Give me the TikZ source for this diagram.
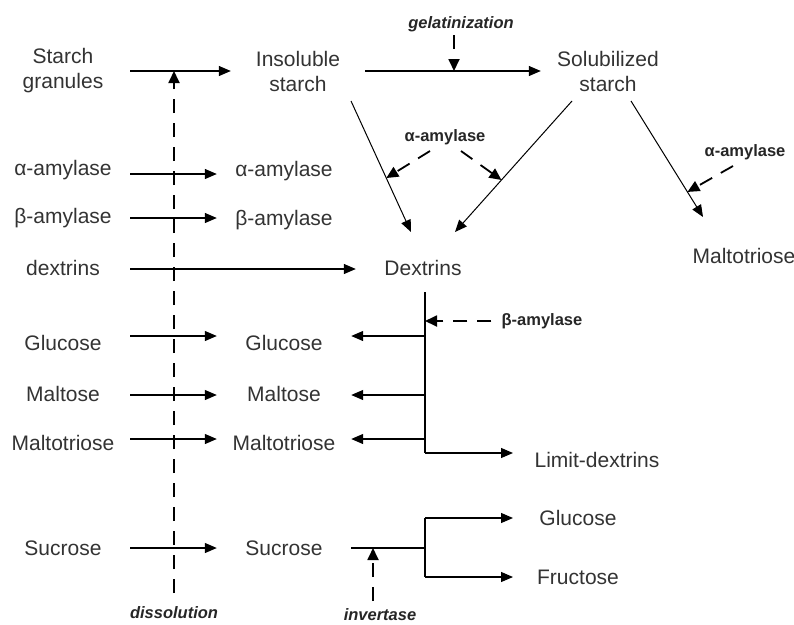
\documentclass[tikz,border=0pt]{standalone}
\usepackage{fontspec}
\setmainfont{Liberation Sans}
\usetikzlibrary{arrows.meta,calc}
\begin{document}
\begin{tikzpicture}[x=1pt,y=-1pt,
  lbl/.style={font=\fontsize{21}{25}\selectfont, text=black!80, align=center, minimum width=134, inner sep=0},
  txt/.style={font=\fontsize{21}{25}\selectfont, text=black!80, inner sep=0},
  enz/.style={font=\fontsize{16.5}{20}\selectfont\bfseries, text=black!85, inner sep=0},
  proc/.style={font=\fontsize{16.5}{20}\selectfont\bfseries\itshape, text=black!85, inner sep=0},
  arr/.style={line width=1.2, -{Triangle[length=12,width=10]}},
  ln/.style={line width=1.2},
  dg/.style={line width=1, -{Triangle[length=12,width=10]}},
  darr/.style={line width=1.8, dash pattern=on 14 off 10, -{Triangle[length=12,width=11]}},
]
\fill[white] (0,0) rectangle (794,624);
\useasboundingbox (0,0) rectangle (794,624);

% top row
\node[lbl] (sg) at (63,71) {Starch\\granules};
\node[lbl] (is) at (298,71) {Insoluble\\starch};
\node[lbl] (ss) at (608,71) {Solubilized\\starch};
\node[proc] (gel) at (461,24) {gelatinization};
\coordinate (gx) at (454,71);

\draw[arr] (sg.east) -- (is.west);
\draw[arr] (is.east) -- (ss.west);
\draw[darr] (gx |- 0,35) -- (gx);

% left and middle columns
\node[lbl] (aL) at (63,170) {α-amylase};
\node[lbl] (aM) at (284,171) {α-amylase};
\node[lbl] (bL) at (63,218) {β-amylase};
\node[lbl] (bM) at (284,220) {β-amylase};
\node[lbl] (dL) at (63,268) {dextrins};
\node[lbl] (dx) at (423,268) {Dextrins};
\node[lbl] (gL) at (63,343) {Glucose};
\node[lbl] (gM) at (284,343) {Glucose};
\node[lbl] (mL) at (63,394) {Maltose};
\node[lbl] (mM) at (284,394) {Maltose};
\node[lbl] (tL) at (63,443) {Maltotriose};
\node[lbl] (tM) at (284,443) {Maltotriose};
\node[lbl] (sL) at (63,548) {Sucrose};
\node[lbl] (sM) at (284,548) {Sucrose};

\draw[arr] (aL.east |- 0,174) -- (aM.west |- 0,174);
\draw[arr] (bL.east |- 0,218) -- (bM.west |- 0,218);
\draw[arr] (dL.east |- 0,269) -- (dx.west |- 0,269);
\draw[arr] (gL.east |- 0,336) -- (gM.west |- 0,336);
\draw[arr] (mL.east |- 0,395) -- (mM.west |- 0,395);
\draw[arr] (tL.east |- 0,439) -- (tM.west |- 0,439);
\draw[arr] (sL.east |- 0,548) -- (sM.west |- 0,548);

% dissolution
\node[proc] (dis) at (174,613) {dissolution};
\draw[darr] (dis.north |- 0,593) -- (dis.north |- sg.east);

% starch breakdown
\coordinate (a1) at (351,101); \coordinate (a2) at (411,232);
\coordinate (b1) at (572,101); \coordinate (b2) at (455,232);
\coordinate (c1) at (631,101); \coordinate (c2) at (703,217);
\draw[dg] (a1) -- (a2);
\draw[dg] (b1) -- (b2);
\draw[dg] (c1) -- (c2);
\node[txt] (mR) at (744,256) {Maltotriose};

\node[enz] (aa) at (445,137) {α-amylase};
\draw[darr] (430,151) -- ($(a1)!0.588!(a2)$);
\draw[darr] (461,151) -- ($(b1)!0.603!(b2)$);
\node[enz] (aa2) at (745,152) {α-amylase};
\draw[darr] (733,166) -- ($(c1)!0.784!(c2)$);

% dextrins branch
\coordinate (vt) at (425,292);
\coordinate (vb) at (425,453);
\draw[ln] (vt) -- (vb);
\node[enz] (ba) at (542,321) {β-amylase};
\draw[darr] ([xshift=-10]ba.west) -- (vt |- ba.west);
\draw[arr] (vt |- 0,336) -- (gM.east |- 0,336);
\draw[arr] (vt |- 0,395) -- (mM.east |- 0,395);
\draw[arr] (vt |- 0,439) -- (tM.east |- 0,439);
\node[txt] (ld) at (597,460) {Limit-dextrins};
\draw[arr] (vb) -- (513,453);

% sucrose inversion
\node[txt] (gR) at (578,518) {Glucose};
\node[txt] (fR) at (578,577) {Fructose};
\coordinate (sj) at (425,548);
\draw[ln] (sM.east |- sj) -- (sj);
\draw[ln] (sj |- gR) -- (sj |- fR);
\draw[arr] (sj |- gR) -- (513,518);
\draw[arr] (sj |- fR) -- (513,577);
\node[proc] (inv) at (380,615) {invertase};
\draw[darr] (373,601) -- (373,548);
\end{tikzpicture}
\end{document}
